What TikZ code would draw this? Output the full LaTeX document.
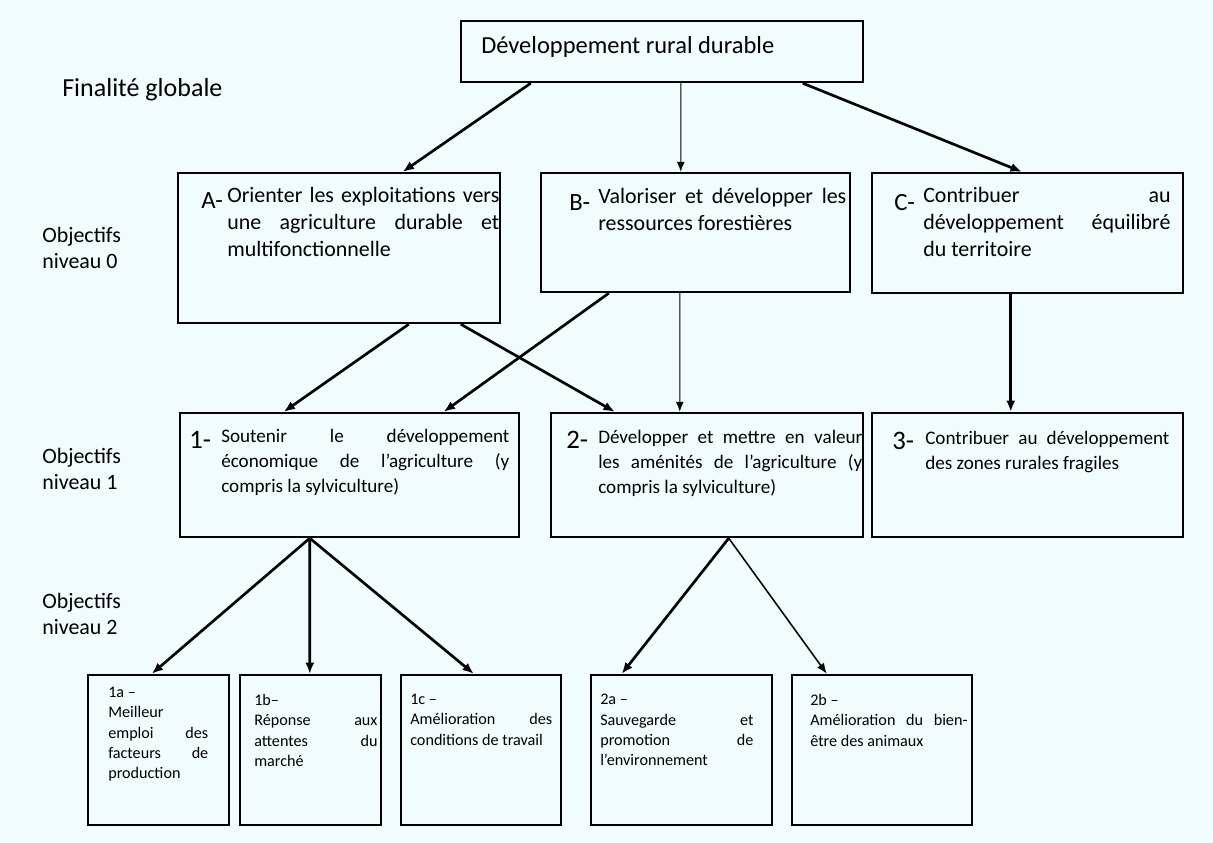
\documentclass[tikz,border=0pt]{standalone}
\usepackage{fontspec}
\setmainfont{Carlito}
\usepackage{xcolor}
\usepackage{tikz}
\usetikzlibrary{arrows.meta, calc, positioning}

\definecolor{fond}{RGB}{240,252,255}
\setlength{\parindent}{0pt}
\tolerance=10000
\hbadness=10000
\hyphenpenalty=10000

\begin{document}
\begin{tikzpicture}[x=0.025cm, y=-0.025cm,
            boite/.style={draw, rectangle, line width=1.7pt, inner sep=0pt},
            texte/.style={anchor=north west, inner sep=0pt, align=justify},
            txtzero/.style={texte, font=\fontsize{15.6}{19.2}\selectfont},
            txtun/.style={texte, font=\fontsize{13.6}{17.6}\selectfont},
            txtdeux/.style={texte, font=\fontsize{11.5}{14.4}\selectfont},
            lettre/.style={anchor=base west, inner sep=0pt, font=\fontsize{17.6}{20}\selectfont},
            chiffre/.style={anchor=base west, inner sep=0pt, font=\fontsize{19}{21}\selectfont},
            niveau/.style={anchor=north west, inner sep=0pt, align=left, font=\fontsize{15.6}{18.5}\selectfont},
            fleche/.style={-{Latex[length=8pt, width=6.5pt]}, line width=1.9pt},
            flechemoy/.style={-{Latex[length=7.5pt, width=6pt]}, line width=1.1pt},
            flechefine/.style={-{Latex[length=7pt, width=5.5pt]}, line width=0.7pt}
        ]

        \fill[fond] (0,0) rectangle (1213,843);

        % Boxes (manual layout to match figure)
        \node[boite, minimum width=10.05cm, minimum height=1.525cm] (haut) at (662,51.5) {};
        \node[boite, minimum width=8.05cm, minimum height=3.75cm] (A) at (339,248) {};
        \node[boite, minimum width=7.725cm, minimum height=2.975cm] (B) at (695.5,232.5) {};
        \node[boite, minimum width=7.775cm, minimum height=3cm] (C) at (1027.5,233) {};
        \node[boite, minimum width=8.475cm, minimum height=3.1cm] (un) at (349.5,475) {};
        \node[boite, minimum width=7.8cm, minimum height=3.1cm] (deux) at (707,475) {};
        \node[boite, minimum width=7.775cm, minimum height=3.1cm] (trois) at (1027.5,475) {};
        \node[boite, minimum width=3.525cm, minimum height=3.75cm] (una) at (158.5,750) {};
        \node[boite, minimum width=3.525cm, minimum height=3.75cm] (unb) at (310.5,750) {};
        \node[boite, minimum width=4cm, minimum height=3.75cm] (unc) at (481,750) {};
        \node[boite, minimum width=4.525cm, minimum height=3.75cm] (deuxa) at (681.5,750) {};
        \node[boite, minimum width=4.5cm, minimum height=3.75cm] (deuxb) at (882,750) {};

        % Left labels
        \node[anchor=base west, inner sep=0pt, font=\fontsize{18.5}{22}\selectfont] (finalite) at (62,96) {Finalité globale};
        \node[niveau] (niv0) at (42,227) {Objectifs\\niveau 0};
        \node[niveau] (niv1) at (42,448) {Objectifs\\niveau 1};
        \node[niveau] (niv2) at (42,593) {Objectifs\\niveau 2};

        % Texts
        \node[anchor=base west, inner sep=0pt, font=\fontsize{17.4}{20}\selectfont] (thaut) at (481,53) {Développement rural durable};

        \node[lettre] (lA) at (201,208) {A-};
        \node[txtzero, text width=6.8cm] (tA) at (227,187) {Orienter les exploitations vers\linebreak une agriculture durable et\linebreak multifonctionnelle};
        \node[lettre] (lB) at (569,210) {B-};
        \node[txtzero, text width=6.2cm] (tB) at (598,188) {Valoriser et développer les\linebreak ressources forestières};
        \node[lettre] (lC) at (894,210) {C-};
        \node[txtzero, text width=6.18cm] (tC) at (923,187) {Contribuer au\linebreak développement équilibré\linebreak du territoire};

        \node[chiffre] (l1) at (189,448) {1-};
        \node[txtun, text width=7.2cm] (t1) at (221,429) {Soutenir le développement\linebreak économique de l’agriculture (y\linebreak compris la sylviculture)};
        \node[chiffre] (l2) at (566,448) {2-};
        \node[txtun, text width=6.6cm] (t2) at (598,430) {Développer et mettre en valeur\linebreak les aménités de l’agriculture (y\linebreak compris la sylviculture)};
        \node[chiffre] (l3) at (892,449) {3-};
        \node[txtun, text width=6.1cm] (t3) at (925,431) {Contribuer au développement\linebreak des zones rurales fragiles};

        \node[txtdeux, text width=2.5cm] (t1a) at (108,687) {1a –\\ Meilleur\linebreak emploi des\linebreak facteurs de\linebreak production};
        \node[txtdeux, text width=3.08cm] (t1b) at (254,694) {1b–\\ Réponse aux\linebreak attentes du\linebreak marché};
        \node[txtdeux, text width=3.55cm] (t1c) at (410,694) {1c –\\ Amélioration des\linebreak conditions de travail};
        \node[txtdeux, text width=3.83cm] (t2a) at (600,694) {2a –\\ Sauvegarde et\linebreak promotion de\linebreak l’environnement};
        \node[txtdeux, text width=3.93cm] (t2b) at (810,694) {2b –\\ Amélioration du bien-\linebreak être des animaux};

        % Edges
        \draw[fleche] ($(haut.south west)+(71,0)$) -- ($(A.north west)+(226,0)$);
        \draw[flechefine] ($(haut.south west)+(221,0)$) -- ($(B.north west)+(141,0)$);
        \draw[fleche] ($(haut.south west)+(343,0)$) -- ($(C.north west)+(151,0)$);

        \draw[fleche] ($(A.south west)+(232,0)$) -- ($(un.north west)+(105,0)$);
        \draw[fleche] ($(A.south west)+(284,0)$) -- ($(deux.north west)+(65,0)$);
        \draw[fleche] ($(B.south west)+(69,0)$) -- ($(un.north west)+(265,0)$);
        \draw[flechefine] ($(B.south west)+(140,0)$) -- ($(deux.north west)+(130,0)$);
        \draw[fleche] ($(C.south west)+(140,0)$) -- ($(trois.north west)+(140,0)$);

        \draw[fleche] ($(un.south west)+(131,0)$) -- ($(una.north west)+(65,0)$);
        \draw[fleche] ($(un.south west)+(131,0)$) -- ($(unb.north west)+(71,0)$);
        \draw[fleche] ($(un.south west)+(131,0)$) -- ($(unc.north west)+(74,0)$);
        \draw[fleche] ($(deux.south west)+(179,0)$) -- ($(deuxa.north west)+(32,0)$);
        \draw[flechemoy] ($(deux.south west)+(179,0)$) -- ($(deuxb.north west)+(36,0)$);

    \end{tikzpicture}
\end{document}
